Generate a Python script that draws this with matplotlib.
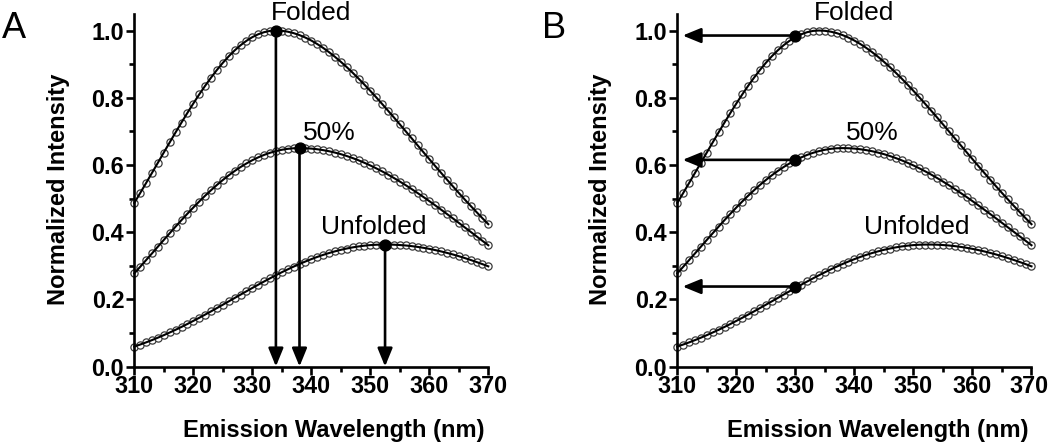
import numpy as np
import matplotlib
matplotlib.use("Agg")
import matplotlib.pyplot as plt
from matplotlib.ticker import MultipleLocator
from matplotlib.transforms import ScaledTranslation

plt.rcParams['font.family'] = ['Liberation Sans', 'DejaVu Sans']

# ---------------- data ----------------
wavelength = list(range(310, 371))

folded = [0.4868, 0.5163, 0.5461, 0.5763, 0.6065, 0.6369, 0.6670, 0.6969, 0.7261, 0.7548,
          0.7827, 0.8096, 0.8353, 0.8596, 0.8825, 0.9037, 0.9231, 0.9406, 0.9560, 0.9692,
          0.9802, 0.9888, 0.9950, 0.9988, 1.0000, 0.9991, 0.9965, 0.9922, 0.9863, 0.9789,
          0.9701, 0.9598, 0.9483, 0.9356, 0.9218, 0.9069, 0.8912, 0.8745, 0.8571, 0.8390,
          0.8204, 0.8012, 0.7815, 0.7615, 0.7413, 0.7208, 0.7001, 0.6794, 0.6586, 0.6379,
          0.6172, 0.5967, 0.5763, 0.5561, 0.5362, 0.5165, 0.4972, 0.4782, 0.4597, 0.4414,
          0.4236]

half = [0.2772, 0.2968, 0.3167, 0.3366, 0.3567, 0.3767, 0.3966, 0.4163, 0.4357, 0.4547,
        0.4731, 0.4910, 0.5082, 0.5246, 0.5403, 0.5550, 0.5689, 0.5817, 0.5935, 0.6042,
        0.6139, 0.6224, 0.6298, 0.6360, 0.6411, 0.6450, 0.6478, 0.6495, 0.6500, 0.6496,
        0.6485, 0.6466, 0.6440, 0.6407, 0.6367, 0.6320, 0.6265, 0.6204, 0.6137, 0.6063,
        0.5984, 0.5898, 0.5808, 0.5712, 0.5611, 0.5505, 0.5396, 0.5282, 0.5165, 0.5045,
        0.4922, 0.4796, 0.4668, 0.4538, 0.4408, 0.4275, 0.4142, 0.4009, 0.3875, 0.3741,
        0.3609]

unfolded = [0.0593, 0.0654, 0.0718, 0.0786, 0.0858, 0.0933, 0.1012, 0.1093, 0.1178, 0.1266,
            0.1357, 0.1449, 0.1544, 0.1640, 0.1739, 0.1838, 0.1938, 0.2038, 0.2138, 0.2238,
            0.2337, 0.2434, 0.2530, 0.2624, 0.2716, 0.2805, 0.2890, 0.2973, 0.3051, 0.3125,
            0.3195, 0.3261, 0.3321, 0.3377, 0.3427, 0.3472, 0.3511, 0.3545, 0.3573, 0.3596,
            0.3613, 0.3624, 0.3629, 0.3629, 0.3625, 0.3615, 0.3602, 0.3583, 0.3560, 0.3533,
            0.3501, 0.3465, 0.3425, 0.3381, 0.3334, 0.3283, 0.3228, 0.3171, 0.3110, 0.3047,
            0.2981]

curve_labels = ["Folded", "50%", "Unfolded"]
label_x = [340.0, 343.1, 350.6]
label_y = [1.031, 0.675, 0.395]

# panel A: emission maxima
peak_wl = [334, 338, 352.5]
peak_int = [1.0, 0.65, 0.363]

# panel B: intensity at fixed wavelength
fixed_wl = 330
fixed_int = [0.985, 0.615, 0.238]

xticks = [310, 320, 330, 340, 350, 360, 370]
yticks = [0.0, 0.2, 0.4, 0.6, 0.8, 1.0]

# ---------------- figure ----------------
W, H = 1050, 445
fig = plt.figure(figsize=(W / 100, H / 100), dpi=100)

def px(x0, y0, x1, y1):
    return [x0 / W, 1 - y1 / H, (x1 - x0) / W, (y1 - y0) / H]

axA = fig.add_axes(px(134.3, 13.7, 488.3, 366.5))
axB = fig.add_axes(px(677.3, 13.7, 1031.5, 366.5))

for ax in (axA, axB):
    ax.set_xlim(310, 370)
    ax.set_ylim(0, 1.05)
    for s in ('top', 'right'):
        ax.spines[s].set_visible(False)
    for s in ('left', 'bottom'):
        ax.spines[s].set_linewidth(1.9)
    ax.set_xticks(xticks)
    ax.set_xticklabels([str(t) for t in xticks])
    ax.set_yticks(yticks)
    ax.set_yticklabels([f"{t:.1f}" for t in yticks])
    ax.xaxis.set_minor_locator(MultipleLocator(5))
    ax.yaxis.set_minor_locator(MultipleLocator(0.1))
    ax.tick_params(which='major', direction='out', length=5.8, width=1.9,
                   labelsize=16.8)
    ax.tick_params(which='minor', direction='out', length=3.8, width=1.9)
    ax.tick_params(axis='x', which='major', pad=0.5)
    ax.tick_params(axis='y', which='major', pad=1.5)
    for lab in ax.get_xticklabels() + ax.get_yticklabels():
        lab.set_fontweight('bold')
    ax.set_facecolor('none')

    for ys in (folded, half, unfolded):
        ax.plot(wavelength, ys, 'o', ms=5.2, mfc='white', mec='#3a3a3a', mew=0.9,
                zorder=2, clip_on=False)
        ax.plot(wavelength, ys, '-', color='black', lw=1.5, zorder=3, clip_on=False)
    for t, xx, yy in zip(curve_labels, label_x, label_y):
        ax.text(xx, yy, t, ha='center', va='baseline', fontsize=19, clip_on=False)

# nudge the last tick label of panel B a little left so it stays inside the canvas
lastlab = axB.xaxis.get_major_ticks()[-1].label1
lastlab.set_transform(lastlab.get_transform() +
                      ScaledTranslation(-2.5 / 100, 0, fig.dpi_scale_trans))

arrow_kw = dict(arrowstyle='-|>,head_length=1.1,head_width=0.45', lw=1.9,
                color='black', mutation_scale=10, shrinkA=0, shrinkB=0)

# panel A: vertical arrows from maxima to the x axis
for xw, yi in zip(peak_wl, peak_int):
    axA.annotate('', xy=(xw, 0.0), xytext=(xw, yi), arrowprops=arrow_kw,
                 zorder=4, annotation_clip=False)
    axA.plot([xw], [yi], 'o', color='black', ms=7.8, zorder=5, clip_on=False)

# panel B: horizontal arrows from fixed wavelength to the y axis
for yi in fixed_int:
    axB.annotate('', xy=(310.9, yi), xytext=(fixed_wl, yi), arrowprops=arrow_kw,
                 zorder=4, annotation_clip=False)
    axB.plot([fixed_wl], [yi], 'o', color='black', ms=7.8, zorder=5, clip_on=False)

# axis labels
for cx, ycx in ((334.2, 58), (877.5, 600)):
    fig.text(cx / W, 1 - 431 / H, "Emission Wavelength (nm)", ha='center', va='center',
             fontsize=17, fontweight='bold')
    fig.text(ycx / W, 1 - 189.5 / H, "Normalized Intensity", ha='center', va='center',
             rotation=90, fontsize=17, fontweight='bold')

# panel letters
fig.text(14 / W, 1 - 29 / H, "A", ha='center', va='center', fontsize=26)
fig.text(554 / W, 1 - 29 / H, "B", ha='center', va='center', fontsize=26)

fig.savefig("out.png", dpi=100)
